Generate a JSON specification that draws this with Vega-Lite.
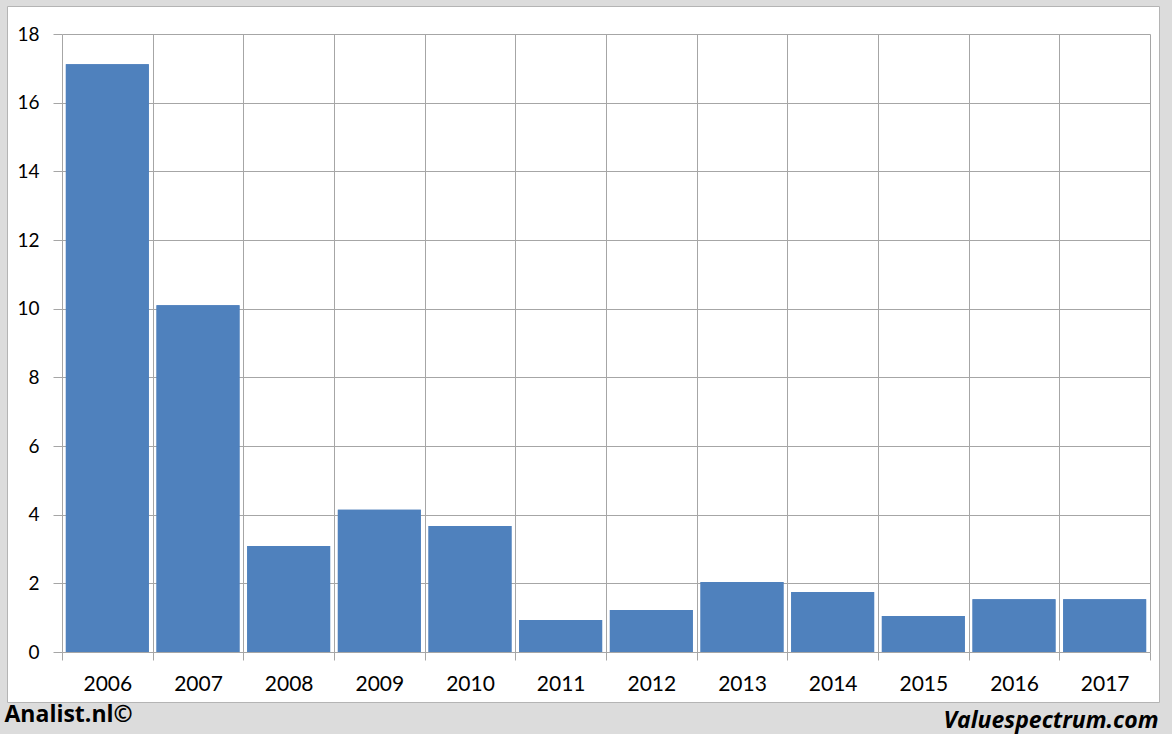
{
  "$schema": "https://vega.github.io/schema/vega-lite/v6.json",
  "autosize": {"type": "none"},
  "width": 1152,
  "height": 696,
  "padding": {"left": 7, "top": 6, "right": 13, "bottom": 32},
  "background": "#dcdcdc",
  "config": {
    "view": {"fill": "white", "stroke": "#b4b4b4", "strokeWidth": 1},
    "font": "Lato"
  },
  "data": {
    "values": [
      {"year": "2006", "value": 17.12},
      {"year": "2007", "value": 10.1},
      {"year": "2008", "value": 3.09},
      {"year": "2009", "value": 4.14},
      {"year": "2010", "value": 3.67},
      {"year": "2011", "value": 0.93},
      {"year": "2012", "value": 1.22},
      {"year": "2013", "value": 2.04},
      {"year": "2014", "value": 1.75},
      {"year": "2015", "value": 1.05},
      {"year": "2016", "value": 1.54},
      {"year": "2017", "value": 1.54}
    ]
  },
  "encoding": {
    "y": {
      "field": "value",
      "type": "quantitative",
      "scale": {"domain": [0, 18], "range": [646, 28], "nice": false},
      "axis": {
        "title": "Analist.nl©",
        "titleFont": "Open Sans",
        "titleFontSize": 23,
        "titleFontWeight": "bold",
        "titleColor": "#000000",
        "titleAngle": 0,
        "titleAlign": "left",
        "titleBaseline": "alphabetic",
        "titleX": -58,
        "titleY": 715,
        "offset": -55,
        "values": [0, 2, 4, 6, 8, 10, 12, 14, 16, 18],
        "grid": true,
        "gridColor": "#a6a6a6",
        "gridWidth": 1,
        "domain": false,
        "tickColor": "#a6a6a6",
        "tickSize": 9,
        "labelFont": "Lato",
        "labelFontSize": 19,
        "labelColor": "#000000",
        "labelPadding": 14
      }
    }
  },
  "layer": [
    {
      "mark": {"type": "bar", "color": "#4f81bd", "width": {"band": 0.915}},
      "encoding": {
        "x": {
          "field": "year",
          "type": "ordinal",
          "sort": null,
          "scale": {"range": [55, 1143], "paddingInner": 0, "paddingOuter": 0},
          "axis": {
            "orient": "top",
            "title": null,
            "tickBand": "extent",
            "grid": true,
            "gridColor": "#a6a6a6",
            "gridWidth": 1,
            "domain": false,
            "ticks": false,
            "labels": false
          }
        }
      }
    },
    {
      "mark": {"type": "bar", "color": "#4f81bd", "width": {"band": 0.915}},
      "encoding": {
        "x": {
          "field": "year",
          "type": "ordinal",
          "sort": null,
          "axis": {
            "orient": "bottom",
            "title": "Valuespectrum.com",
            "titleFont": "Open Sans",
            "titleFontSize": 23,
            "titleFontWeight": "bold",
            "titleFontStyle": "italic",
            "titleColor": "#000000",
            "titleAlign": "right",
            "titleBaseline": "alphabetic",
            "titleAnchor": "end",
            "titleX": 1151,
            "titleY": 75,
            "offset": -50,
            "tickBand": "extent",
            "grid": false,
            "domain": false,
            "ticks": true,
            "tickColor": "#a6a6a6",
            "tickSize": 8,
            "labelAngle": 0,
            "labelFont": "Lato",
            "labelFontSize": 21,
            "labelColor": "#000000",
            "labelPadding": 13
          }
        }
      }
    }
  ],
  "resolve": {"axis": {"x": "independent"}}
}
